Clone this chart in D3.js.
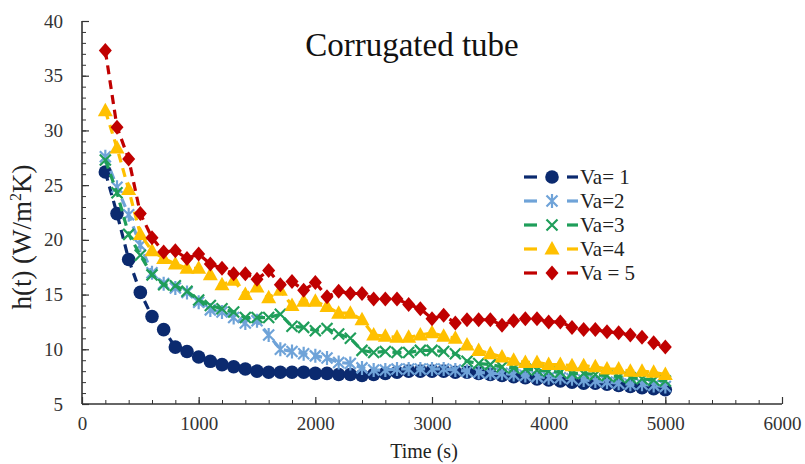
<!DOCTYPE html>
<html>
<head>
<meta charset="utf-8">
<script src="https://cdn.jsdelivr.net/npm/d3@7"></script>
<style>
  html, body { margin: 0; padding: 0; background: #fff; }
  svg { display: block; }
  text { font-family: "Liberation Serif", "Times New Roman", serif; }
</style>
</head>
<body>
<svg id="chart" width="805" height="464"></svg>
<script>
// Time stamps (s): one reading every 100 s from 200 s to 5000 s
const times = d3.range(200, 5001, 100);

const seriesNames = ["Va= 1", "Va=2", "Va=3", "Va=4", "Va = 5"];
const seriesColors = ["#0b2a6f", "#6fa3d8", "#1f9e5a", "#ffc000", "#c00000"];
const seriesSymbols = ["circle", "asterisk", "cross", "triangle", "diamond"];

// Heat transfer coefficient h(t), W/m²K
const va1 = [26.2, 22.4, 18.2, 15.2, 13.0, 11.8, 10.2, 9.8, 9.3, 8.9,
  8.6, 8.4, 8.2, 8.0, 7.9, 7.9, 7.9, 7.9, 7.8, 7.8,
  7.7, 7.7, 7.6, 7.7, 7.8, 7.9, 8.0, 8.0, 8.0, 8.0,
  7.9, 7.9, 7.8, 7.7, 7.6, 7.5, 7.4, 7.3, 7.2, 7.1,
  7.0, 6.9, 6.9, 6.8, 6.7, 6.6, 6.5, 6.4, 6.3];
const va2 = [27.6, 24.8, 22.3, 19.5, 17.0, 16.0, 15.6, 15.2, 14.3, 13.6,
  13.4, 12.9, 12.4, 12.6, 11.3, 10.0, 9.8, 9.6, 9.4, 9.2,
  8.8, 8.7, 8.3, 8.1, 8.1, 8.2, 8.2, 8.2, 8.2, 8.2,
  8.1, 8.0, 7.9, 7.8, 7.8, 7.7, 7.6, 7.5, 7.4, 7.4,
  7.3, 7.2, 7.1, 7.0, 6.9, 6.8, 6.8, 6.7, 6.6];
const va3 = [27.3, 24.3, 20.5, 18.6, 16.8, 15.9, 15.8, 15.3, 14.5, 14.0,
  13.7, 13.4, 12.9, 12.9, 12.9, 13.2, 12.1, 12.0, 11.7, 11.9,
  11.4, 11.0, 9.9, 9.7, 9.8, 9.7, 9.7, 9.9, 9.9, 9.8,
  9.6, 8.9, 8.7, 8.6, 8.4, 8.3, 8.2, 8.1, 8.0, 7.9,
  7.8, 7.8, 7.7, 7.6, 7.5, 7.4, 7.3, 7.2, 7.1];
const va4 = [31.8, 28.4, 24.6, 20.5, 19.0, 18.3, 17.8, 17.4, 17.4, 16.8,
  15.9, 16.3, 15.0, 15.7, 14.7, 15.4, 14.0, 14.4, 14.4, 13.9,
  13.3, 13.3, 12.7, 11.3, 11.2, 11.1, 11.1, 11.3, 11.5, 11.2,
  11.0, 10.4, 9.9, 9.6, 9.3, 9.0, 8.8, 8.8, 8.6, 8.6,
  8.5, 8.5, 8.4, 8.2, 8.2, 8.0, 8.0, 7.9, 7.7];
const va5 = [37.3, 30.3, 27.4, 22.4, 20.2, 18.9, 19.0, 18.3, 18.7, 17.8,
  17.4, 16.9, 16.9, 16.4, 17.2, 15.9, 16.2, 15.4, 16.1, 14.8,
  15.3, 15.1, 15.1, 14.6, 14.6, 14.6, 14.1, 13.7, 12.8, 13.1,
  12.4, 12.7, 12.7, 12.7, 12.2, 12.6, 12.8, 12.8, 12.5, 12.5,
  12.0, 11.8, 11.8, 11.6, 11.5, 11.3, 11.1, 10.6, 10.2];
const seriesValues = [va1, va2, va3, va4, va5];

const xTicks = [0, 1000, 2000, 3000, 4000, 5000, 6000];
const yTicks = [5, 10, 15, 20, 25, 30, 35, 40];

const svg = d3.select("#chart");
const margin = { left: 82, right: 23, top: 21, bottom: 60 };
const W = 805, H = 464;
const serif = "'Liberation Serif', 'Times New Roman', serif";

const x = d3.scaleLinear().domain([0, 6000]).range([margin.left, W - margin.right]);
const y = d3.scaleLinear().domain([5, 40]).range([H - margin.bottom, margin.top]);

// Axes: inward ticks, minor every 200 s and every 1 unit
const axisColor = "#333";
const xMinor = d3.range(0, 6001, 200);
const yMinor = d3.range(5, 40.01, 1);

const gx = svg.append("g").attr("transform", `translate(0,${y(5)})`);
gx.call(d3.axisBottom(x).tickValues(xMinor).tickSize(-4).tickFormat(""));
gx.call(g => g.selectAll(".tick line").attr("stroke", axisColor));
gx.select(".domain").remove();
const gx2 = svg.append("g").attr("transform", `translate(0,${y(5)})`);
gx2.call(d3.axisBottom(x).tickValues(xTicks).tickSize(-7).tickPadding(13).tickFormat(d3.format("d")));
gx2.select(".domain").attr("stroke", axisColor).attr("stroke-width", 1.6).attr("d", `M${x(0)},0H${x(6000)}`);
gx2.selectAll(".tick line").attr("stroke", axisColor).attr("stroke-width", 1.2);
gx2.selectAll(".tick text").attr("font-size", 19).attr("fill", "#333").style("font-family", serif);

const gy = svg.append("g").attr("transform", `translate(${x(0)},0)`);
gy.call(d3.axisLeft(y).tickValues(yMinor).tickSize(-4).tickFormat(""));
gy.call(g => g.selectAll(".tick line").attr("stroke", axisColor));
gy.select(".domain").remove();
const gy2 = svg.append("g").attr("transform", `translate(${x(0)},0)`);
gy2.call(d3.axisLeft(y).tickValues(yTicks).tickSize(-7).tickPadding(19).tickFormat(d3.format("d")));
gy2.select(".domain").attr("stroke", axisColor).attr("stroke-width", 1.6).attr("d", `M0,${y(5)}V${y(40)}`);
gy2.selectAll(".tick line").attr("stroke", axisColor).attr("stroke-width", 1.2);
gy2.selectAll(".tick text").attr("font-size", 19).attr("fill", "#333").style("font-family", serif);

// Axis titles and chart title
svg.append("text")
  .attr("x", 412).attr("y", 56)
  .attr("text-anchor", "middle").attr("font-size", 33).attr("fill", "#111")
  .text("Corrugated tube");

svg.append("text")
  .attr("x", x(3000) - 8).attr("y", 458)
  .attr("text-anchor", "middle").attr("font-size", 20).attr("fill", "#222")
  .text("Time (s)");

const yl = svg.append("text")
  .attr("transform", `translate(31,237) rotate(-90)`)
  .attr("text-anchor", "middle").attr("font-size", 27).attr("fill", "#222");
yl.append("tspan").text("h(t) (W/m");
yl.append("tspan").attr("font-size", 16).attr("dy", -10).text("2");
yl.append("tspan").attr("dy", 10).text("K)");

// Marker shapes
function drawMarker(g, kind, color) {
  if (kind === "circle") {
    g.append("circle").attr("r", 6.8).attr("fill", color);
  } else if (kind === "diamond") {
    g.append("path").attr("d", "M0,-7.5L6.5,0L0,7.5L-6.5,0Z").attr("fill", color);
  } else if (kind === "triangle") {
    g.append("path").attr("d", "M0,-8L7.5,5.5L-7.5,5.5Z").attr("fill", color);
  } else if (kind === "cross") {
    g.append("path").attr("d", "M-5.5,-5.5L5.5,5.5M-5.5,5.5L5.5,-5.5")
      .attr("stroke", color).attr("stroke-width", 2.2).attr("fill", "none");
  } else if (kind === "asterisk") {
    g.append("path").attr("d", "M-5.5,-5.5L5.5,5.5M-5.5,5.5L5.5,-5.5M0,-7V7")
      .attr("stroke", color).attr("stroke-width", 2.2).attr("fill", "none");
  }
}

const line = d3.line().x(d => x(d[0])).y(d => y(d[1]));

seriesValues.forEach((vals, i) => {
  const pts = times.map((t, j) => [t, vals[j]]);
  const g = svg.append("g");
  g.append("path")
    .attr("d", line(pts))
    .attr("fill", "none")
    .attr("stroke", seriesColors[i])
    .attr("stroke-width", 3.2)
    .attr("stroke-dasharray", "9,6");
  g.selectAll("g.pt").data(pts).join("g")
    .attr("class", "pt")
    .attr("transform", d => `translate(${x(d[0])},${y(d[1])})`)
    .each(function () { drawMarker(d3.select(this), seriesSymbols[i], seriesColors[i]); });
});

// Legend
const legend = svg.append("g");
const legendY = [177, 201, 225, 249, 273];
seriesNames.forEach((name, i) => {
  const row = legend.append("g").attr("transform", `translate(0,${legendY[i]})`);
  row.append("line").attr("x1", 524).attr("x2", 537).attr("y1", 0).attr("y2", 0)
    .attr("stroke", seriesColors[i]).attr("stroke-width", 3.2);
  row.append("line").attr("x1", 567).attr("x2", 578).attr("y1", 0).attr("y2", 0)
    .attr("stroke", seriesColors[i]).attr("stroke-width", 3.2);
  drawMarker(row.append("g").attr("transform", "translate(552,0)"), seriesSymbols[i], seriesColors[i]);
  row.append("text").attr("x", 580).attr("y", 7)
    .attr("font-size", 21).attr("fill", "#222").text(name);
});
</script>
</body>
</html>
